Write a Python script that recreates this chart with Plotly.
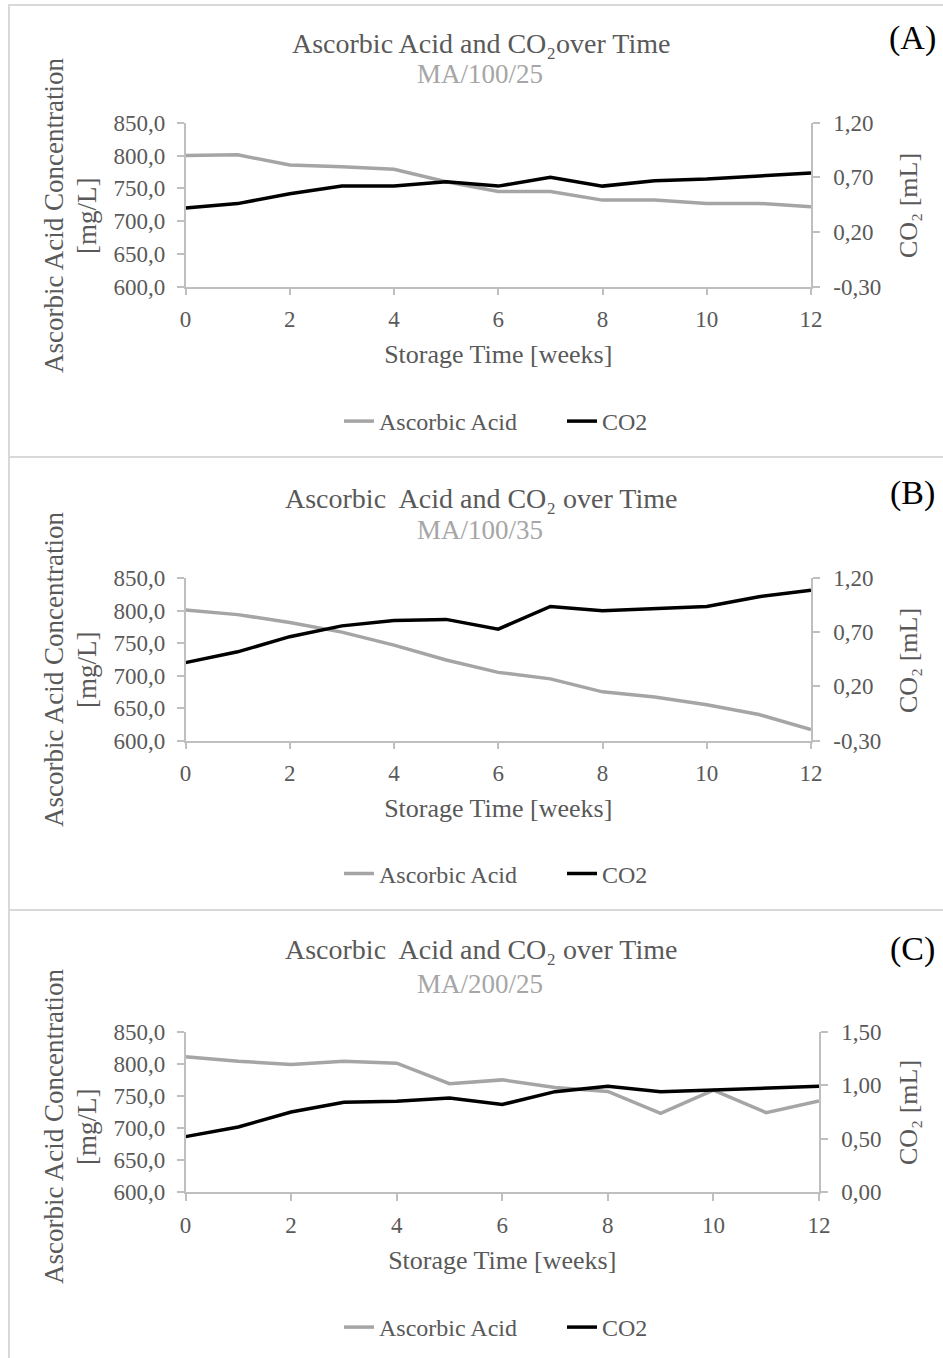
import plotly.graph_objects as go

W, H = 943, 1358


def px(x):
    return x / W


def py(y):
    return 1 - y / H


# ---------------- data ----------------
weeks = list(range(13))

aa_A = [800, 801, 785.5, 783, 779, 760, 745, 745, 732, 732, 727, 727, 722]
co2_A = [0.42, 0.46, 0.55, 0.62, 0.62, 0.66, 0.62, 0.70, 0.62, 0.67, 0.685, 0.715, 0.74]

aa_B = [801, 794, 782, 767, 747, 724, 705, 695, 675, 667, 655, 640, 617]
co2_B = [0.42, 0.52, 0.66, 0.76, 0.81, 0.82, 0.73, 0.94, 0.90, 0.92, 0.94, 1.03, 1.09]

aa_C = [811, 804, 799, 804, 801, 769, 775, 763, 757, 723, 759, 724, 742]
co2_C = [0.52, 0.61, 0.75, 0.84, 0.85, 0.88, 0.82, 0.94, 0.99, 0.94, 0.955, 0.97, 0.99]

x_tickvals = [0, 2, 4, 6, 8, 10, 12]
aa_tickvals = [600, 650, 700, 750, 800, 850]
aa_ticktext = ["600,0", "650,0", "700,0", "750,0", "800,0", "850,0"]
co2_tickvals_AB = [-0.30, 0.20, 0.70, 1.20]
co2_ticktext_AB = ["-0,30", "0,20", "0,70", "1,20"]
co2_tickvals_C = [0.0, 0.5, 1.0, 1.5]
co2_ticktext_C = ["0,00", "0,50", "1,00", "1,50"]

titles = [
    "Ascorbic Acid and CO\u2082over Time",
    "Ascorbic\u00a0 Acid and CO\u2082 over Time",
    "Ascorbic\u00a0 Acid and CO\u2082 over Time",
]
subtitles = ["MA/100/25", "MA/100/35", "MA/200/25"]
panel_labels = ["(A)", "(B)", "(C)"]
series_names = ["Ascorbic Acid", "CO2"]
x_title = "Storage Time [weeks]"
y_title_lines = ["Ascorbic Acid Concentration", "[mg/L]"]
y2_title = "CO\u2082 [mL]"

aa_series = [aa_A, aa_B, aa_C]
co2_series = [co2_A, co2_B, co2_C]
co2_ranges = [[-0.30, 1.20], [-0.30, 1.20], [0.0, 1.5]]
co2_tv = [co2_tickvals_AB, co2_tickvals_AB, co2_tickvals_C]
co2_tt = [co2_ticktext_AB, co2_ticktext_AB, co2_ticktext_C]

# ---------------- geometry (pixels) ----------------
panels = [
    dict(top=122.7, bottom=286.7, left=185.5, right=811, title_y=43, sub_y=74,
         label_y=38, ytitle_y=216, y2title_y=206, legend_y=421.5, box_top=5, box_bottom=457),
    dict(top=578.3, bottom=740.5, left=185.5, right=811, title_y=498, sub_y=530,
         label_y=493, ytitle_y=670, y2title_y=661, legend_y=874, box_top=457, box_bottom=910),
    dict(top=1031.7, bottom=1192.3, left=185.5, right=819, title_y=949, sub_y=984,
         label_y=949, ytitle_y=1127, y2title_y=1113, legend_y=1327.5, box_top=910, box_bottom=1400),
]

GRAY_LINE = "#a5a5a5"
AXIS_COL = "#bfbfbf"
TEXT_COL = "#595959"
SUB_COL = "#a6a6a6"
FONT = "Liberation Serif, Times New Roman, serif"

fig = go.Figure()

layout = dict(
    width=W, height=H,
    margin=dict(l=0, r=0, t=0, b=0, autoexpand=False),
    paper_bgcolor="white", plot_bgcolor="white",
    separators=",.",
    font=dict(family=FONT, color=TEXT_COL, size=23),
    showlegend=True,
    annotations=[], shapes=[],
)

base_ax = dict(showgrid=False, zeroline=False, showline=True, linecolor=AXIS_COL,
               linewidth=1.5, ticks="outside", ticklen=7, tickwidth=1.5, automargin=False,
               tickcolor=AXIS_COL, tickfont=dict(size=23, color=TEXT_COL, family=FONT))
inner_ax = dict(showgrid=False, zeroline=False, showline=False, ticks="inside", automargin=False,
                ticklen=7, tickwidth=1.5, tickcolor=AXIS_COL, showticklabels=False)

for i, p in enumerate(panels):
    xref = "x" if i == 0 else f"x{i + 1}"
    xkey = "xaxis" if i == 0 else f"xaxis{i + 1}"
    yl_n = 2 * i + 1
    yr_n = 2 * i + 2
    ylref = "y" if yl_n == 1 else f"y{yl_n}"
    ylkey = "yaxis" if yl_n == 1 else f"yaxis{yl_n}"
    yrref = f"y{yr_n}"
    yrkey = f"yaxis{yr_n}"
    xo_n = 4 + i
    ylo_n = 7 + 2 * i
    yro_n = 8 + 2 * i

    xdom = [px(p["left"]), px(p["right"])]
    ydom = [py(p["bottom"]), py(p["top"])]

    layout[xkey] = dict(base_ax, domain=xdom, anchor=ylref, range=[0, 12],
                        tickvals=x_tickvals, ticklabelstandoff=4,
                        title=dict(text=x_title, font=dict(size=26, color=TEXT_COL), standoff=14))
    layout[ylkey] = dict(base_ax, domain=ydom, anchor=xref, range=[600, 850],
                         tickvals=aa_tickvals, ticktext=aa_ticktext, ticklabelstandoff=7)
    layout[yrkey] = dict(base_ax, overlaying=ylref, side="right", anchor=xref,
                         range=co2_ranges[i], tickvals=co2_tv[i], ticktext=co2_tt[i],
                         ticklabelstandoff=9)
    # overlay axes giving the inner half of the crossing tick marks
    layout[f"xaxis{xo_n}"] = dict(inner_ax, overlaying=xref, anchor=ylref, range=[0, 12],
                                  tickvals=x_tickvals)
    layout[f"yaxis{ylo_n}"] = dict(inner_ax, overlaying=ylref, anchor=xref, side="left",
                                   range=[600, 850], tickvals=aa_tickvals)
    layout[f"yaxis{yro_n}"] = dict(inner_ax, overlaying=ylref, anchor=xref, side="right",
                                   range=co2_ranges[i], tickvals=co2_tv[i])

    leg = "legend" if i == 0 else f"legend{i + 1}"
    layout[leg] = dict(orientation="h", x=px(339), xanchor="left", y=py(p["legend_y"]),
                       yanchor="middle", font=dict(size=24, color=TEXT_COL, family=FONT),
                       bgcolor="rgba(0,0,0,0)", entrywidth=178, entrywidthmode="pixels",
                       tracegroupgap=0)

    fig.add_trace(go.Scatter(x=weeks, y=aa_series[i], mode="lines", name=series_names[0],
                             line=dict(color=GRAY_LINE, width=3.5), xaxis=xref, yaxis=ylref,
                             legend=leg))
    fig.add_trace(go.Scatter(x=weeks, y=co2_series[i], mode="lines", name=series_names[1],
                             line=dict(color="black", width=3.5), xaxis=xref, yaxis=yrref,
                             legend=leg))

    ann = layout["annotations"]
    ann.append(dict(text=titles[i], x=px(481), y=py(p["title_y"]), xref="paper", yref="paper",
                    showarrow=False, xanchor="center", yanchor="middle",
                    font=dict(size=28, color=TEXT_COL, family=FONT)))
    ann.append(dict(text=subtitles[i], x=px(480), y=py(p["sub_y"]), xref="paper", yref="paper",
                    showarrow=False, xanchor="center", yanchor="middle",
                    font=dict(size=27, color=SUB_COL, family=FONT)))
    ann.append(dict(text=panel_labels[i], x=px(912), y=py(p["label_y"]), xref="paper",
                    yref="paper", showarrow=False, xanchor="center", yanchor="middle",
                    font=dict(size=34, color="black", family=FONT)))
    ann.append(dict(text=y_title_lines[0], x=px(54), y=py(p["ytitle_y"]), xref="paper",
                    yref="paper", showarrow=False, xanchor="center", yanchor="middle",
                    textangle=-90, font=dict(size=27, color=TEXT_COL, family=FONT)))
    ann.append(dict(text=y_title_lines[1], x=px(87), y=py(p["ytitle_y"]), xref="paper",
                    yref="paper", showarrow=False, xanchor="center", yanchor="middle",
                    textangle=-90, font=dict(size=27, color=TEXT_COL, family=FONT)))
    ann.append(dict(text=y2_title, x=px(908), y=py(p["y2title_y"]), xref="paper", yref="paper",
                    showarrow=False, xanchor="center", yanchor="middle", textangle=-90,
                    font=dict(size=26, color=TEXT_COL, family=FONT)))

    layout["shapes"].append(dict(type="rect", xref="paper", yref="paper",
                                 x0=px(9), x1=px(960), y0=py(p["box_bottom"]), y1=py(p["box_top"]),
                                 line=dict(color="#d9d9d9", width=2), fillcolor="rgba(0,0,0,0)",
                                 layer="below"))

fig.update_layout(**layout)
fig.write_html("out.html")
